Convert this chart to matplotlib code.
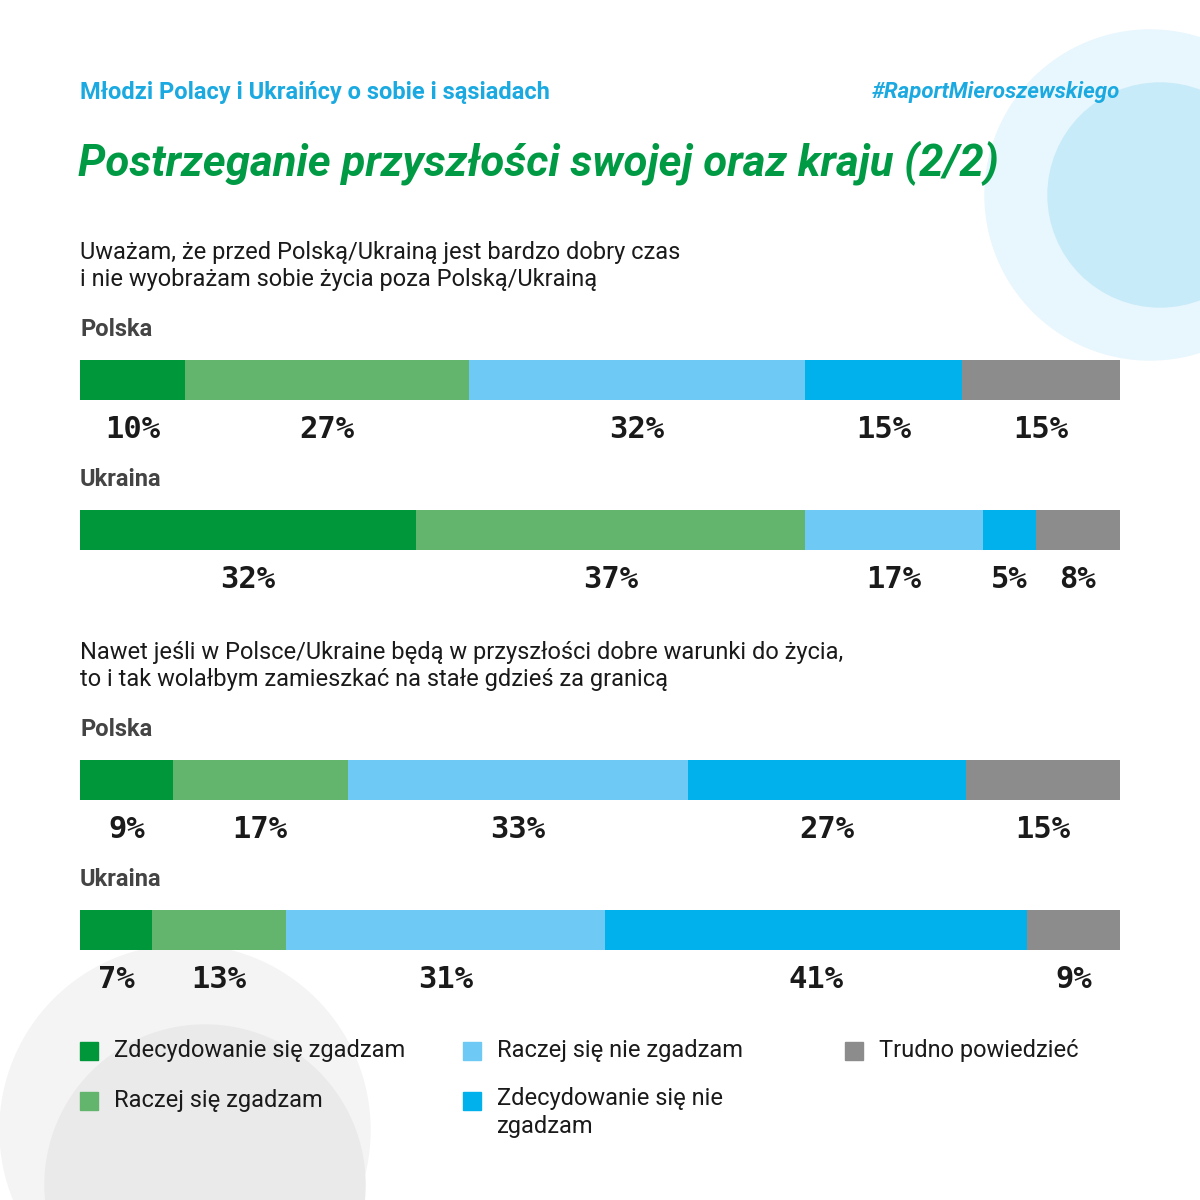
import matplotlib.pyplot as plt
from matplotlib.patches import Circle, Rectangle

# ===================== DATA =====================
categories = ["Zdecydowanie się zgadzam", "Raczej się zgadzam", "Raczej się nie zgadzam",
              "Zdecydowanie się nie\nzgadzam", "Trudno powiedzieć"]
colors = ["#00963a", "#63b46c", "#6ec9f4", "#00b1eb", "#8c8c8c"]

q1_polska = [10, 27, 32, 15, 15]
q1_ukraina = [32, 37, 17, 5, 8]
q2_polska = [9, 17, 33, 27, 15]
q2_ukraina = [7, 13, 31, 41, 9]

questions = [
    "Uważam, że przed Polską/Ukrainą jest bardzo dobry czas\ni nie wyobrażam sobie życia poza Polską/Ukrainą",
    "Nawet jeśli w Polsce/Ukraine będą w przyszłości dobre warunki do życia,\nto i tak wolałbym zamieszkać na stałe gdzieś za granicą",
]

FONT = "Roboto"
DARK = "#1a1a1a"

fig = plt.figure(figsize=(12, 12), dpi=100)
ax = fig.add_axes([0, 0, 1, 1])
ax.set_xlim(0, 1200)
ax.set_ylim(1200, 0)
ax.axis("off")

# background circles
ax.add_patch(Circle((1150, 195), 165, color="#e8f6fd", zorder=0))
ax.add_patch(Circle((1160, 195), 112, color="#c8ebf9", zorder=0))
ax.add_patch(Circle((185, 1130), 185, color="#f4f4f4", zorder=0))
ax.add_patch(Circle((205, 1185), 160, color="#eaeaea", zorder=0))

ax.text(80, 92, "Młodzi Polacy i Ukraińcy o sobie i sąsiadach", fontsize=17, fontweight="bold",
        color="#1aa9e0", family=FONT, va="center")
ax.text(1120, 92, "#RaportMieroszewskiego", fontsize=16, fontweight="bold", style="italic",
        color="#1aa9e0", family=FONT, va="center", ha="right")
ax.text(78, 163, "Postrzeganie przyszłości swojej oraz kraju (2/2)", fontsize=31.5, fontweight="bold",
        style="italic", color="#009a44", family=FONT, va="center")

def draw_bar(y, values, label):
    ax.text(80, y - 30, label, fontsize=17, fontweight="bold", color="#444444", family=FONT, va="center")
    total = sum(values)
    left = 80
    for v, c in zip(values, colors):
        w = 1040 * v / total
        ax.barh(y + 20, w, left=left, height=40, color=c, zorder=2)
        ax.text(left + w / 2, y + 70, f"{v}%", fontsize=22, fontweight="bold", family="DejaVu Sans Mono",
                color=DARK, ha="center", va="center")
        left += w

ax.text(80, 266, questions[0], fontsize=17, color=DARK, family=FONT, va="center", linespacing=1.25)
draw_bar(360, q1_polska, "Polska")
draw_bar(510, q1_ukraina, "Ukraina")
ax.text(80, 666, questions[1], fontsize=17, color=DARK, family=FONT, va="center", linespacing=1.25)
draw_bar(760, q2_polska, "Polska")
draw_bar(910, q2_ukraina, "Ukraina")

# legend
legend_pos = [(80, 1051), (80, 1101), (463, 1051), (463, 1101), (845, 1051)]
for (x, y), cat, c in zip(legend_pos, categories, colors):
    ax.add_patch(Rectangle((x, y - 9), 18, 18, color=c, zorder=2))
    if "\n" in cat:
        ax.text(x + 34, y - 14, cat, fontsize=17, color=DARK, family=FONT, va="top", linespacing=1.25)
    else:
        ax.text(x + 34, y, cat, fontsize=17, color=DARK, family=FONT, va="center")

fig.savefig("out.png", dpi=100)
